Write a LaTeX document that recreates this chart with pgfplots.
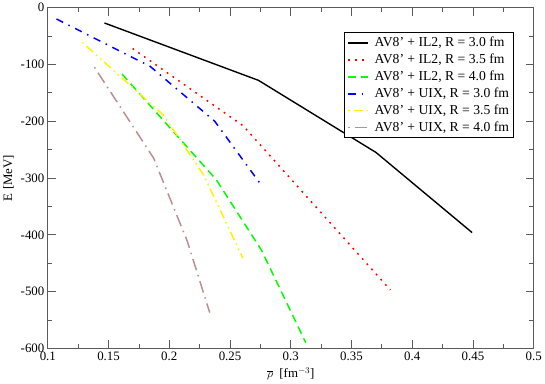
\documentclass[border=0pt]{standalone}
\usepackage{fontspec}
\setmainfont{Liberation Serif}
\usepackage{pgfplots}
\pgfplotsset{compat=1.18}
\definecolor{rosy}{RGB}{188,143,143}
\definecolor{axgray}{RGB}{90,90,90}

\begin{document}
\begin{tikzpicture}
\begin{axis}[
    scale only axis,
    width=489bp, height=343bp,
    xmin=0.1, xmax=0.5,
    ymin=-600, ymax=0,
    xtick={0.1,0.15,0.2,0.25,0.3,0.35,0.4,0.45,0.5},
    ytick={-600,-500,-400,-300,-200,-100,0},
    minor x tick num=1,
    minor y tick num=1,
    tick align=inside,
    major tick length=8bp,
    minor tick length=4.5bp,
    axis line style={axgray, line width=1bp},
    every tick/.style={axgray, line width=0.8bp},
    /pgf/number format/assume math mode=true,
    xticklabel style={/pgf/number format/fixed, /pgf/number format/precision=2},
    tick label style={font=\fontsize{13}{14}\selectfont},
    label style={font=\fontsize{13}{14}\selectfont},
    xlabel={$\overline{\rho}$\ \ [fm$^{-3}$]},
    ylabel={E [MeV]},
    legend style={at={(0.9605,0.928)}, anchor=north east,
        font=\fontsize{13.8}{16}\selectfont, draw=black, line width=1bp,
        inner xsep=3bp, inner ysep=2bp, row sep=0bp, column sep=4bp,
        nodes={text height=10.5bp, text depth=3.5bp, inner ysep=1.5bp}},
    legend cell align=left,
    legend image code/.code={\draw[#1] (0bp,0bp) -- (20bp,0bp);},
]

% AV8' + IL2, R = 3.0 fm
\addplot[black, line width=1.4bp] coordinates {
    (0.1466,-27) (0.2734,-128) (0.3702,-255) (0.4493,-396)
};
\addlegendentry{AV8' + IL2, R = 3.0 fm}

% AV8' + IL2, R = 3.5 fm
\addplot[red, line width=1.5bp, dash pattern=on 1.8bp off 5.2bp] coordinates {
    (0.1698,-72) (0.2608,-208) (0.382,-497)
};
\addlegendentry{AV8' + IL2, R = 3.5 fm}

% AV8' + IL2, R = 4.0 fm
\addplot[green, line width=1.5bp, dash pattern=on 8bp off 5bp] coordinates {
    (0.1611,-117) (0.2387,-303) (0.2759,-427) (0.3124,-590)
};
\addlegendentry{AV8' + IL2, R = 4.0 fm}

% AV8' + UIX, R = 3.0 fm
\addplot[blue, line width=1.5bp, dash pattern=on 7.5bp off 6bp on 1.5bp off 6bp] coordinates {
    (0.1071,-20) (0.1843,-103.5) (0.2374,-200) (0.2756,-312)
};
\addlegendentry{AV8' + UIX, R = 3.0 fm}

% AV8' + UIX, R = 3.5 fm
\addplot[yellow, line width=1.5bp, dash pattern=on 1.5bp off 4bp on 9bp off 4bp on 1.5bp off 4bp] coordinates {
    (0.1284,-61.4) (0.1956,-190) (0.2286,-296) (0.2606,-441)
};
\addlegendentry{AV8' + UIX, R = 3.5 fm}

% AV8' + UIX, R = 4.0 fm
\addplot[rosy, line width=1.5bp, dash pattern=on 1.5bp off 5bp on 12bp off 5bp] coordinates {
    (0.1384,-105) (0.1871,-265) (0.2148,-411) (0.2333,-537)
};
\addlegendentry{AV8' + UIX, R = 4.0 fm}

\end{axis}
\end{tikzpicture}
\end{document}
